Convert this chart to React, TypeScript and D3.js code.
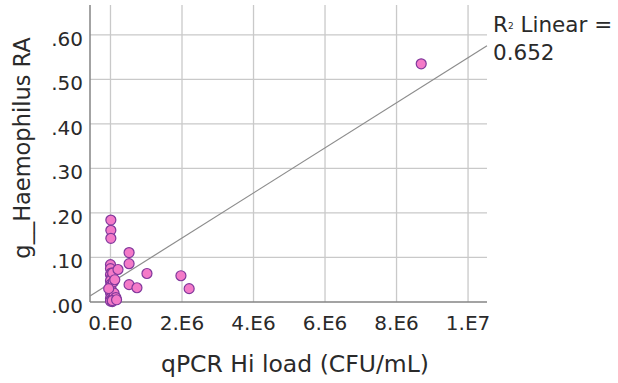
import React from "react";
import * as d3 from "d3";

// Data (x in CFU/mL, y relative abundance)
const qpcrLoad: number[] = [
  0.01e6, 0.01e6, 0.01e6, 0.0e6, 0.0e6, 0.02e6, 0.0e6, 0.03e6, 0.0e6, 0.01e6,
  0.0e6, 0.02e6, 0.0e6, 0.01e6, 0.03e6, 0.0e6, 0.02e6, 0.01e6, 0.0e6, 0.05e6,
  0.1e6, 0.15e6, 0.08e6, 0.05e6, -0.05e6, 0.06e6,
  0.21e6, 0.17e6, 0.12e6, 0.52e6, 0.52e6, 0.52e6, 0.74e6, 1.02e6, 1.97e6, 2.2e6,
  8.69e6,
];
const haemophilusRA: number[] = [
  0.184, 0.161, 0.143, 0.084, 0.075, 0.065, 0.061, 0.055, 0.048, 0.04,
  0.035, 0.028, 0.022, 0.018, 0.012, 0.008, 0.005, 0.003, 0.002, 0.001,
  0.02, 0.01, 0.045, 0.003, 0.03, 0.065,
  0.073, 0.005, 0.05, 0.111, 0.086, 0.039, 0.032, 0.064, 0.059, 0.03,
  0.535,
];
const xTickValues: number[] = [0, 2e6, 4e6, 6e6, 8e6, 1e7];
const xTickLabels: string[] = ["0.E0", "2.E6", "4.E6", "6.E6", "8.E6", "1.E7"];
const yTickValues: number[] = [0, 0.1, 0.2, 0.3, 0.4, 0.5, 0.6];
const yTickLabels: string[] = [".00", ".10", ".20", ".30", ".40", ".50", ".60"];
const fitIntercept = 0.0425;
const fitSlopePerMillion = 0.0506;
const r2Text = "0.652";

const W = 618;
const H = 383;
const FONT = "'DejaVu Sans', sans-serif";

export default function App() {
  const x = d3.scaleLinear().domain([-0.573e6, 10.53e6]).range([90, 487]);
  const y = d3.scaleLinear().domain([0, 0.667]).range([302, 5]);
  const [x0, x1] = x.domain();
  const fit = (v: number) => fitIntercept + fitSlopePerMillion * (v / 1e6);
  const line = d3.line<number>().x((d) => x(d)).y((d) => y(fit(d)));
  const pts = qpcrLoad.map((v, i) => ({ x: v, y: haemophilusRA[i] }));

  return (
    <svg
      width={W}
      height={H}
      style={{ position: "absolute", left: 0, top: 0, background: "#fff" }}
      fontFamily={FONT}
    >
      {/* grid */}
      {yTickValues.slice(1).map((t) => (
        <line key={"gy" + t} x1={90} x2={487} y1={y(t)} y2={y(t)} stroke="#c9c9c9" strokeWidth={1.3} />
      ))}
      {xTickValues.map((t) => (
        <line key={"gx" + t} x1={x(t)} x2={x(t)} y1={5} y2={302} stroke="#c9c9c9" strokeWidth={1.3} />
      ))}
      {/* axes */}
      <line x1={90} x2={90} y1={5} y2={302} stroke="#858585" strokeWidth={1.5} />
      <line x1={90} x2={487} y1={302} y2={302} stroke="#858585" strokeWidth={1.5} />
      {/* fit line */}
      <path d={line([x0, x1]) || ""} stroke="#8c8c8c" strokeWidth={1.2} fill="none" />
      {/* points */}
      {pts.map((p, i) => (
        <circle key={i} cx={x(p.x)} cy={y(p.y)} r={5} fill="#f47ac8" stroke="#80389c" strokeWidth={1.2} />
      ))}
      {/* y ticks */}
      {yTickValues.map((t, i) => (
        <text key={"ty" + t} x={83} y={y(t) + 11} textAnchor="end" fontSize={20} fill="#2a2a2a">
          {yTickLabels[i]}
        </text>
      ))}
      {/* x ticks */}
      {xTickValues.map((t, i) => (
        <text key={"tx" + t} x={x(t)} y={330} textAnchor="middle" fontSize={20} fill="#2a2a2a">
          {xTickLabels[i]}
        </text>
      ))}
      {/* axis titles */}
      <text x={295} y={372} textAnchor="middle" fontSize={23.5} fill="#2a2a2a">
        qPCR Hi load (CFU/mL)
      </text>
      <text transform="translate(30,148) rotate(-90)" textAnchor="middle" fontSize={22.5} fill="#2a2a2a">
        g__Haemophilus RA
      </text>
      {/* R2 label */}
      <text x={493} y={32} fontSize={21.5} fill="#2a2a2a">
        R<tspan fontSize={9} dy={-3}>2</tspan>
        <tspan dy={3}> Linear =</tspan>
      </text>
      <text x={493} y={60} fontSize={21.5} fill="#2a2a2a">
        {r2Text}
      </text>
    </svg>
  );
}
